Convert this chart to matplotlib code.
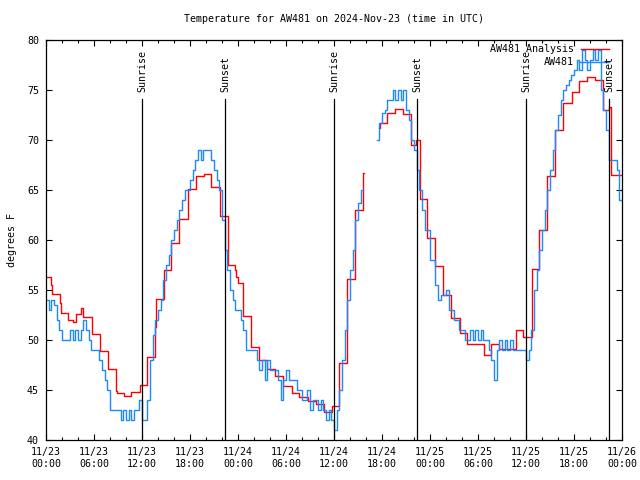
import matplotlib
matplotlib.use('Agg')
import matplotlib.pyplot as plt
import numpy as np

nan = np.nan

# hours since 11/23 00:00 UTC where the analysis value changes
red_hours = [0, 0.67, 0.8, 1.7, 1.85, 2.75, 3.4, 3.7, 4.4, 4.67, 5.7, 6.7, 7.75, 8.7, 8.85, 9.75, 10.67, 11.75,
             12.6, 13.67, 13.75, 14.7, 15.67, 16.6, 17.75, 18.7, 19.7, 20.67, 21.7, 22.75, 23.6, 23.8, 24.0,
             24.6, 25.6, 26.65, 27.65, 28.6, 29.65, 30.7, 31.6, 32.7, 33.7, 34.7, 35.7, 36.6, 37.6, 38.65,
             39.6, 39.75, 41.6, 41.7, 42.65, 43.6, 44.6, 45.6, 46.3, 46.7, 47.6, 48.6, 49.6, 50.6, 51.7,
             52.6, 54.7, 55.6, 56.6, 58.7, 59.65, 60.7, 61.6, 62.6, 63.6, 64.6, 65.7, 66.6, 67.6, 68.6,
             69.6, 70.4, 70.6, 72]
red_temps = [56.3, 55.5, 54.6, 53.7, 52.7, 52.0, 51.8, 52.6, 53.2, 52.3, 50.6, 48.9, 47.1, 44.9, 44.7, 44.4, 44.8, 45.5,
             48.3, 51.3, 54.1, 57.0, 59.7, 62.1, 65.1, 66.4, 66.6, 65.3, 62.4, 57.5, 57.0, 56.3, 55.7,
             52.4, 49.3, 48.0, 47.1, 46.4, 45.4, 44.7, 44.3, 43.9, 43.6, 42.8, 43.4, 47.7, 56.1, 63.0,
             66.7, nan, 71.2, 71.7, 72.7, 73.1, 72.6, 69.5, 70.0, 64.1, 60.2, 57.4, 54.5, 52.2, 50.7,
             49.6, 48.5, 49.6, 49.1, 51.0, 50.3, 57.1, 61.0, 66.4, 71.0, 73.7, 74.8, 75.9, 76.3, 76.0,
             73.0, 73.3, 66.5, 66.5]

# station obs, one value every 20 minutes (3 per hour)
blue_temps = [54, 53, 54, 53.5, 52, 51, 50, 50, 50,
              51, 50, 51, 50, 51, 52, 51, 50, 49,
              49, 49, 48, 47, 46, 45, 43, 43, 43,
              43, 42, 43, 42, 43, 42, 43, 43, 44,
              42, 42, 44, 48, 50.5, 52, 53, 54, 56,
              57.5, 58.5, 60, 61, 62, 63, 64, 65, 65,
              66, 67, 68, 69, 68, 69, 69, 69, 68,
              67, 66, 65, 62, 59, 57, 55, 54, 53,
              53, 52, 51, 49, 49, 49, 49, 48, 47,
              48, 46, 48, 47, 47, 47, 46, 44, 46,
              47, 46, 46, 46, 45, 45, 44, 44, 45,
              43, 44, 44, 43, 44, 43, 42, 43, 42,
              41, 43, 45, 48, 51, 54, 57, 59, 62,
              63.7, 65, nan, nan, nan, nan, nan, 70, 71.7,
              72.7, 73, 74, 74, 75, 74, 75, 74, 75,
              73, 72, 70, 69, 67, 65, 63, 61, 61,
              58, 58, 55.5, 54, 54.5, 54.5, 55, 53, 53,
              52, 52, 51, 51, 50, 50, 51, 50, 51,
              50, 51, 50, 50, 49, 48, 46, 49, 50,
              49, 50, 49, 50, 49, 49, 49, 49, 49,
              48, 49, 51, 55, 57, 59, 61, 63, 65,
              67, 69, 71, 72.5, 74, 75, 75.5, 76, 76.5,
              77, 78, 77, 79, 78, 77, 78, 79, 78,
              79, 75, 73, 71, 68, 68, 68, 67, 64]
blue_hours = np.arange(len(blue_temps)) / 3.0

sun_hours = [12.0, 22.4, 36.0, 46.4, 60.0, 70.4]
sun_labels = ['Sunrise', 'Sunset', 'Sunrise', 'Sunset', 'Sunrise', 'Sunset']

tick_hours = np.arange(0, 73, 6)
tick_labels = ['11/23\n00:00', '11/23\n06:00', '11/23\n12:00', '11/23\n18:00',
               '11/24\n00:00', '11/24\n06:00', '11/24\n12:00', '11/24\n18:00',
               '11/25\n00:00', '11/25\n06:00', '11/25\n12:00', '11/25\n18:00',
               '11/26\n00:00']

plt.rcParams['font.family'] = 'DejaVu Sans Mono'
plt.rcParams['font.size'] = 7.2

fig = plt.figure(figsize=(6.4, 4.8), dpi=100)
ax = fig.add_axes([46 / 640, 40 / 480, 576 / 640, 400 / 480])

ax.step(red_hours, red_temps, where='post', color='#ff0000', lw=1.0)
ax.step(np.append(blue_hours, 72), np.append(blue_temps, blue_temps[-1]),
        where='post', color='#1e88ff', lw=1.0)

for h, lab in zip(sun_hours, sun_labels):
    ax.plot([h, h], [40, 74.1], color='black', lw=0.9)
    ax.text(h, 74.8, lab, rotation=90, ha='center', va='bottom')

# key, gnuplot style: text right-justified, sample to the right
ax.text(0.917, 0.977, 'AW481 Analysis', transform=ax.transAxes, ha='right', va='center')
ax.plot([0.929, 0.977], [0.977, 0.977], transform=ax.transAxes, color='#ff0000', lw=1.0)
ax.text(0.917, 0.944, 'AW481', transform=ax.transAxes, ha='right', va='center')
ax.plot([0.925, 0.977], [0.944, 0.944], transform=ax.transAxes, color='#1e88ff', lw=1.0)

ax.set_xlim(0, 72)
ax.set_ylim(40, 80)
ax.set_xticks(tick_hours)
ax.set_xticklabels(tick_labels)
ax.set_xticks(np.arange(0, 73, 2), minor=True)
ax.set_yticks(np.arange(40, 81, 5))
ax.tick_params(which='both', direction='in', top=True, right=True, width=0.8)
ax.tick_params(which='major', length=4)
ax.tick_params(which='minor', length=2.2)
ax.tick_params(axis='x', pad=5)
ax.tick_params(axis='y', pad=5)
ax.set_ylabel('degrees F', labelpad=7)
for s in ax.spines.values():
    s.set_linewidth(0.9)

fig.text(334 / 640, 1 - 19 / 480, 'Temperature for AW481 on 2024-Nov-23 (time in UTC)',
         ha='center', va='center')

fig.savefig('out.png', dpi=100)
